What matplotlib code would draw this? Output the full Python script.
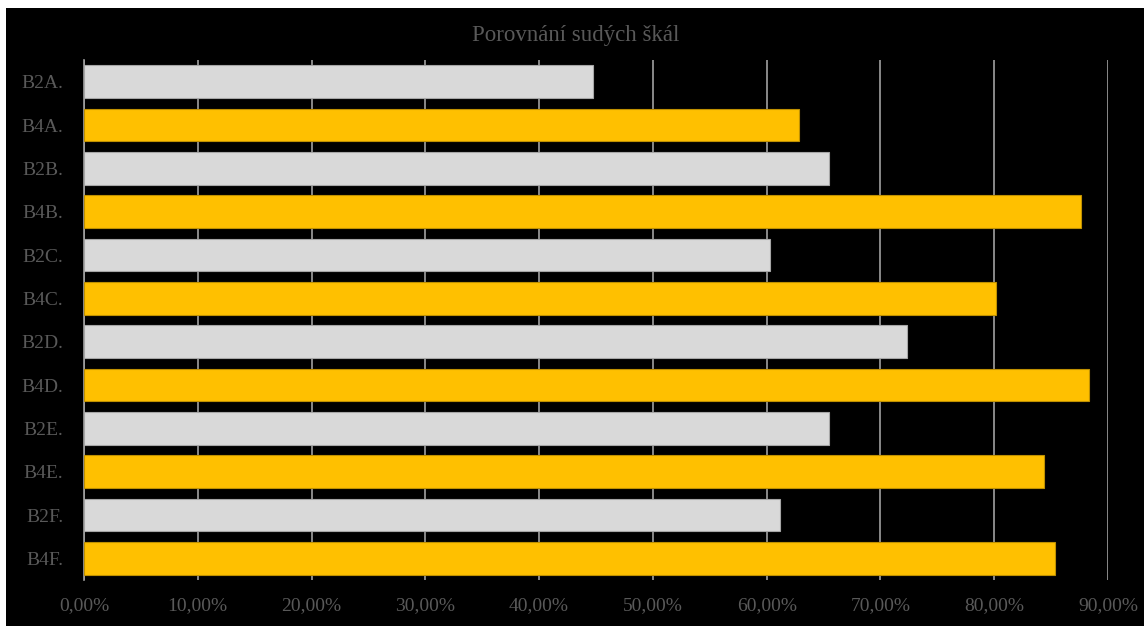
import matplotlib
matplotlib.use('Agg')
import matplotlib.pyplot as plt
from matplotlib.patches import Rectangle
from matplotlib.ticker import FuncFormatter

plt.rcParams['font.family'] = 'Liberation Serif'

labels = ['B2A.', 'B4A.', 'B2B.', 'B4B.', 'B2C.', 'B4C.',
          'B2D.', 'B4D.', 'B2E.', 'B4E.', 'B2F.', 'B4F.']
values = [0.447, 0.628, 0.655, 0.876, 0.603, 0.802,
          0.723, 0.883, 0.655, 0.844, 0.612, 0.853]

grey = '#D9D9D9'
gold = '#FFC000'
colors = [grey if l.startswith('B2') else gold for l in labels]
edges = ['#A6A6A6' if l.startswith('B2') else '#BF9000' for l in labels]
text_col = '#595959'

fig = plt.figure(figsize=(11.44, 6.26), dpi=100, facecolor='white')
# black chart area, small white margin at top/left
fig.patches.append(Rectangle((6 / 1144, 0), 1, 1 - 8 / 626, transform=fig.transFigure,
                             facecolor='black', edgecolor='none', zorder=-5))

ax = fig.add_axes([84 / 1144, 46 / 626, 1024 / 1144, 520 / 626])
ax.set_facecolor('black')

y = range(len(labels))
ax.barh(y, values, height=0.76, color=colors, edgecolor=edges, linewidth=0.8, zorder=3)

ax.set_xlim(0, 0.9)
ax.set_ylim(len(labels) - 0.5, -0.5)
ax.set_xticks([i / 10 for i in range(10)])
ax.xaxis.set_major_formatter(FuncFormatter(lambda v, p: f'{v * 100:.2f}%'.replace('.', ',')))
ax.set_yticks(list(y))
ax.set_yticklabels(labels)

ax.grid(axis='x', color='#A0A0A0', linewidth=1.2, zorder=0)
ax.tick_params(axis='both', length=0, labelcolor=text_col, labelsize=14)
ax.tick_params(axis='y', pad=15)
ax.tick_params(axis='x', pad=12)

for s in ['top', 'right', 'bottom']:
    ax.spines[s].set_visible(False)
ax.spines['left'].set_color('#A0A0A0')
ax.spines['left'].set_linewidth(1.2)

fig.text(576 / 1144, 1 - 35 / 626, 'Porovnání sudých škál', color=text_col,
         fontsize=16.5, ha='center', va='center')

plt.savefig('out.png', dpi=100, facecolor=fig.get_facecolor())
